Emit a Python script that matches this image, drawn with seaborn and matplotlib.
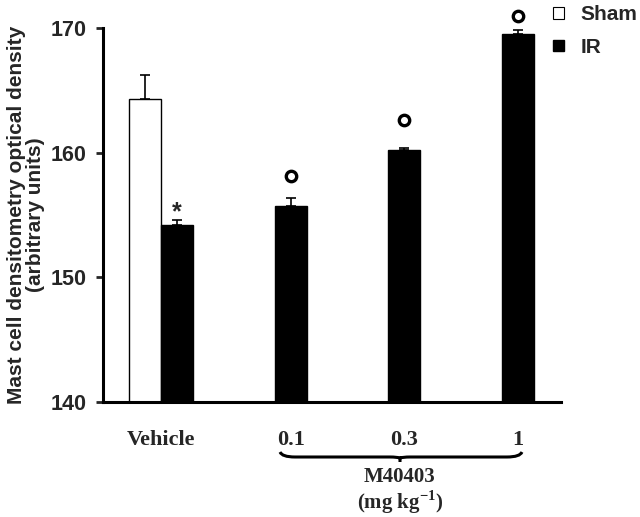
import numpy as np
import pandas as pd
import matplotlib
matplotlib.use("Agg")
import matplotlib.pyplot as plt
from matplotlib.patches import Patch
from matplotlib.path import Path
from matplotlib.patches import PathPatch
import seaborn as sns

# ---- data ----
doses = ["Vehicle", "0.1", "0.3", "1"]
treatments = ["Sham", "IR"]
sham_means = [164.3]
sham_sem = [1.9]
ir_means = [154.2, 155.7, 160.2, 169.5]
ir_sem = [0.4, 0.7, 0.2, 0.3]
star_y = [155.2]            # "*" vs sham, Vehicle IR bar
ring_y = [158.1, 162.6, 171.0]  # "o" vs vehicle, dose bars
y_ticks = [140, 150, 160, 170]

rows = [("Vehicle", "Sham", sham_means[0])]
rows += [(d, "IR", v) for d, v in zip(doses, ir_means)]
df = pd.DataFrame(rows, columns=["dose", "treatment", "value"])

sns.set_style("white")
plt.rcParams["font.family"] = ["Liberation Sans", "DejaVu Sans"]
plt.rcParams["mathtext.fontset"] = "custom"
plt.rcParams["mathtext.rm"] = "Liberation Serif"
plt.rcParams["mathtext.bf"] = "Liberation Serif:bold"

fig = plt.figure(figsize=(6.4, 5.17), dpi=100)
ax = fig.add_axes([103/640, 1-402/517, (561-103)/640, (402-28)/517])

sns.barplot(data=df, x="dose", y="value", hue="treatment", order=doses,
            hue_order=treatments, palette={"Sham": "white", "IR": "black"},
            edgecolor="black", linewidth=1.0, width=0.564, gap=0,
            errorbar=None, legend=False, ax=ax)

# error bars (upward only)
sem_map = {"Sham": sham_sem, "IR": ir_sem}
mean_map = {"Sham": sham_means, "IR": ir_means}
centers = {}
for cont, tr in zip(ax.containers, treatments):
    xs = []
    for p in cont.patches:
        if np.isnan(p.get_height()) or p.get_height() == 0:
            continue
        xs.append(p.get_x() + p.get_width() / 2)
    centers[tr] = xs
    m = mean_map[tr]
    e = sem_map[tr]
    ax.errorbar(xs, m, yerr=[np.zeros(len(e)), e], fmt="none",
                ecolor="black", elinewidth=1.2, capsize=3.5, capthick=1.2)

ax.set_ylim(140, 170)
ax.set_xlim(-0.511, 3.52)
ax.set_yticks(y_ticks)
ax.set_yticklabels([str(t) for t in y_ticks], fontsize=15.5, fontweight="bold")
ax.tick_params(axis="y", direction="out", length=5, width=2, pad=7, left=True)
ax.tick_params(axis="x", length=0, pad=20)

xt = [0] + centers["IR"][1:]
ax.set_xticks(xt)
ax.set_xticklabels(doses, fontsize=16, fontweight="bold",
                   family=["Liberation Serif"])
ax.set_xlabel("")
ax.set_ylabel("Mast cell densitometry optical density\n(arbitrary units)",
              fontsize=15, fontweight="bold", labelpad=4, linespacing=1.0)

for s in ["top", "right"]:
    ax.spines[s].set_visible(False)
for s in ["left", "bottom"]:
    ax.spines[s].set_linewidth(2.2)
    ax.spines[s].set_color("black")

# significance marks
ax.text(centers["IR"][0], star_y[0], "*", ha="center", va="center",
        fontsize=18, fontweight="bold")
ax.plot(centers["IR"][1:], ring_y, linestyle="none", marker="o",
        markersize=7.5, markerfacecolor="white", markeredgecolor="black",
        markeredgewidth=2.4, clip_on=False)

# brace under dose labels (figure pixel coords)
x0, x1, xm = 280, 522, 400
yt, yb, ytip = 452, 457, 462
verts = [(x0, yt), (x0 + 2, yb), (x0 + 15, yb), (xm - 10, yb),
         (xm - 3, yb), (xm, yb + 1), (xm, ytip), (xm, yb + 1), (xm + 3, yb),
         (xm + 10, yb), (x1 - 15, yb), (x1 - 2, yb), (x1, yt)]
verts = [(x / 640, 1 - y / 517) for x, y in verts]
codes = [Path.MOVETO, Path.CURVE3, Path.CURVE3, Path.LINETO,
         Path.CURVE3, Path.CURVE3, Path.LINETO, Path.MOVETO, Path.CURVE3,
         Path.CURVE3, Path.LINETO, Path.CURVE3, Path.CURVE3]
fig.add_artist(PathPatch(Path(verts, codes), transform=fig.transFigure,
                         facecolor="none", edgecolor="black", lw=2.2))
fig.text(xm / 640, 1 - 477 / 517, "M40403", ha="center", va="center",
         fontsize=15, fontweight="bold", family=["Liberation Serif"])
fig.text(xm / 640, 1 - 502 / 517, "(mg kg$^{\\mathbf{-1}}$)", ha="center",
         va="center", fontsize=15, fontweight="bold",
         family=["Liberation Serif"])

# legend
handles = [Patch(facecolor="white", edgecolor="black", linewidth=0.8, label="Sham"),
           Patch(facecolor="black", edgecolor="black", label="IR")]
fig.legend(handles=handles, loc="upper left",
           bbox_to_anchor=(545 / 640, 1 + 3 / 517), frameon=False,
           prop={"weight": "bold", "size": 15}, handlelength=0.5,
           handleheight=0.5, handletextpad=0.8, labelspacing=0.65,
           borderaxespad=0)

fig.savefig("out.png", dpi=100)
